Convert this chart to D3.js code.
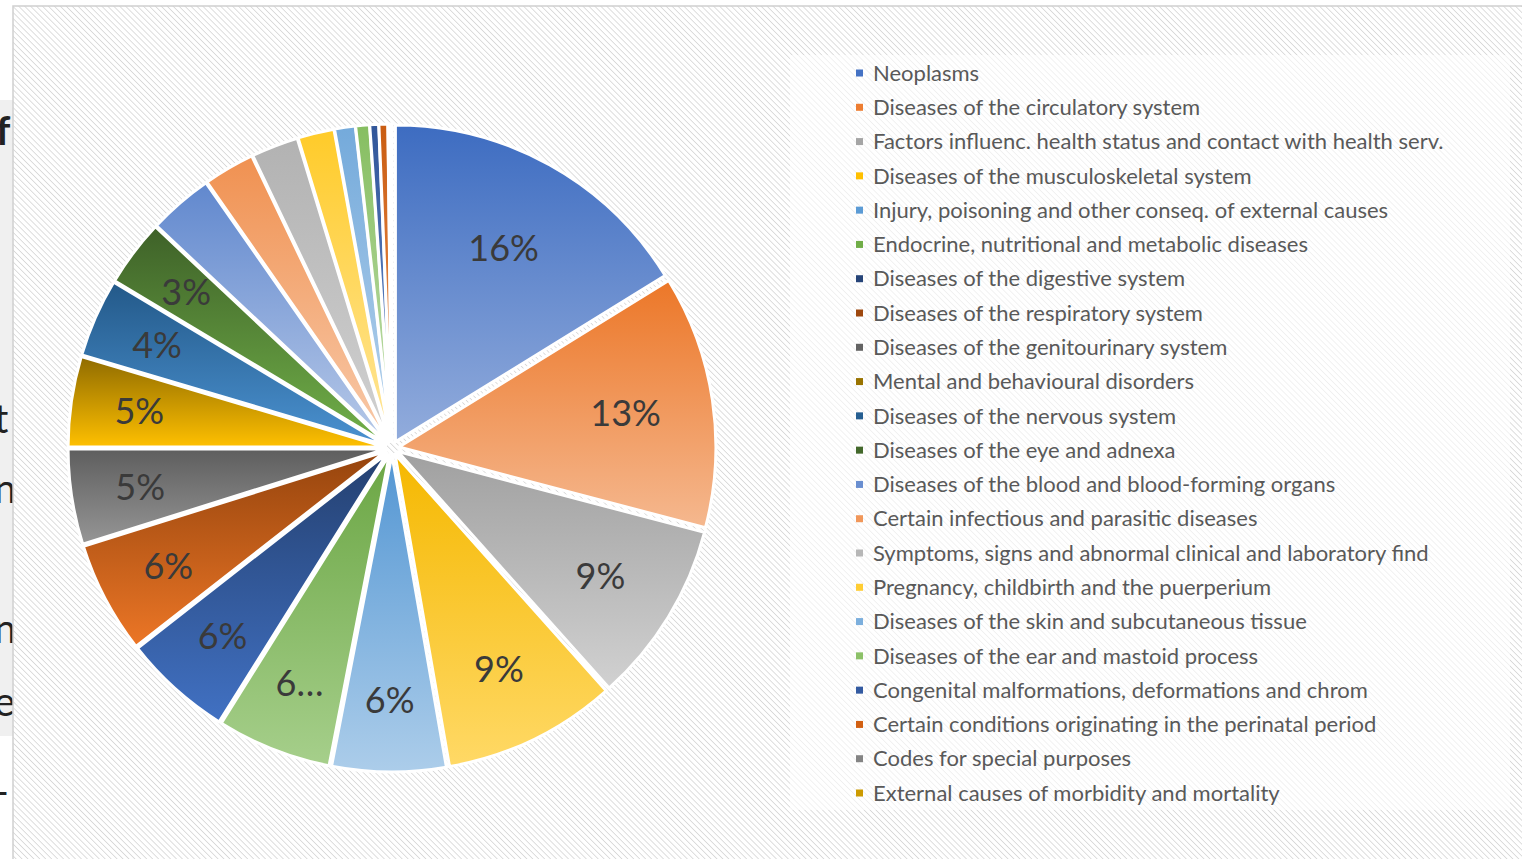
<!DOCTYPE html>
<html>
<head>
<meta charset="utf-8">
<script src="https://cdn.jsdelivr.net/npm/d3@7"></script>
<style>
  html, body { margin: 0; padding: 0; background: #ffffff; overflow: hidden; }
  svg { display: block; }
</style>
</head>
<body>
<svg id="chart" width="1522" height="859"></svg>
<script>
// ---- data ----
const categories = [
  "Neoplasms",
  "Diseases of the circulatory system",
  "Factors influenc. health status and contact with health serv.",
  "Diseases of the musculoskeletal system",
  "Injury, poisoning and other conseq. of external causes",
  "Endocrine, nutritional and metabolic diseases",
  "Diseases of the digestive system",
  "Diseases of the respiratory system",
  "Diseases of the genitourinary system",
  "Mental and behavioural disorders",
  "Diseases of the nervous system",
  "Diseases of the eye and adnexa",
  "Diseases of the blood and blood-forming organs",
  "Certain infectious and parasitic diseases",
  "Symptoms, signs and abnormal clinical and laboratory find",
  "Pregnancy, childbirth and the puerperium",
  "Diseases of the skin and subcutaneous tissue",
  "Diseases of the ear and mastoid process",
  "Congenital malformations, deformations and chrom",
  "Certain conditions originating in the perinatal period",
  "Codes for special purposes",
  "External causes of morbidity and mortality"
];
const shares = [16.2, 12.9, 9.3, 8.85, 5.8, 5.85, 5.55, 5.7, 4.85, 4.6, 4.0, 3.4, 3.3, 2.6, 2.4, 1.85, 1.05, 0.7, 0.45, 0.45, 0.1, 0.1];
const sliceLabels = ["16%", "13%", "9%", "9%", "6%", "6…", "6%", "6%", "5%", "5%", "4%", "3%", "", "", "", "", "", "", "", "", "", ""];
const colors = ["#4472C4", "#ED7D31", "#A5A5A5", "#FFC000", "#5B9BD5", "#70AD47", "#264478", "#9E480E", "#636363", "#997300", "#255E91", "#43682B", "#698ED0", "#F1975A", "#B7B7B7", "#FFCD33", "#7CAFDD", "#8CC168", "#335AA1", "#D26012", "#848484", "#CC9A00"];
const sideText = [
  {t: "f", y: 145, w: "bold"},
  {t: "t", y: 433, w: "normal"},
  {t: "n", y: 503, w: "normal"},
  {t: "n", y: 643, w: "normal"},
  {t: "e", y: 716, w: "normal"},
  {t: "-", y: 806, w: "normal"}
];

const svg = d3.select("#chart");
const defs = svg.append("defs");

// hatch pattern
const pat = defs.append("pattern")
  .attr("id", "hatch").attr("patternUnits", "userSpaceOnUse")
  .attr("width", 4.2).attr("height", 4.2)
  .attr("patternTransform", "rotate(-45)");
pat.append("rect").attr("width", 4.2).attr("height", 4.2).attr("fill", "#ffffff");
pat.append("line").attr("x1", 0).attr("y1", 0).attr("x2", 0).attr("y2", 4.2)
  .attr("stroke", "#d6d6d6").attr("stroke-width", 1.6);

// left document fragment
svg.append("rect").attr("x", 0).attr("y", 100).attr("width", 14).attr("height", 636).attr("fill", "#f0f0f0");
svg.selectAll("text.side").data(sideText).join("text")
  .attr("class", "side")
  .attr("x", d => d.t === "f" ? -4 : -6)
  .attr("y", d => d.y)
  .attr("font-family", "Lato, 'Open Sans', sans-serif")
  .attr("font-size", 40)
  .attr("font-weight", d => d.w)
  .attr("fill", "#222")
  .text(d => d.t);

// chart area
svg.append("rect").attr("x", 13).attr("y", 6).attr("width", 1512).attr("height", 856)
  .attr("fill", "url(#hatch)").attr("stroke", "#d0d0d0").attr("stroke-width", 1.5);

// legend box
svg.append("rect").attr("x", 790).attr("y", 55).attr("width", 720).attr("height", 755)
  .attr("fill", "#ffffff").attr("fill-opacity", 0.6);

// gradients: darker base at top, lighter shade of same hue at bottom
colors.forEach((c, i) => {
  const g = defs.append("linearGradient").attr("id", "g" + i)
    .attr("x1", 0).attr("y1", 0).attr("x2", 0).attr("y2", 1);
  const top = d3.hsl(c); top.l = Math.max(0, top.l - 0.02);
  const bot = d3.hsl(c); bot.l = Math.min(0.82, bot.l + 0.2);
  g.append("stop").attr("offset", "0%").attr("stop-color", top.formatHex());
  g.append("stop").attr("offset", "100%").attr("stop-color", bot.formatHex());
});

// pie
const cx = 392, cy = 448, R = 317, explode = 7;
const pie = d3.pie().sort(null).value(d => d).startAngle(0).endAngle(2 * Math.PI);
const arcs = pie(shares);
const arc = d3.arc().innerRadius(0).outerRadius(R);
// larger slices carry their label closer to the centre (best-fit style)
const labelR = d3.scaleLinear().domain([3, 16]).range([252, 222]).clamp(true);

const pg = svg.append("g").attr("transform", `translate(${cx},${cy})`);
const slices = pg.selectAll("g.slice").data(arcs).join("g")
  .attr("class", "slice")
  .attr("transform", d => {
    const a = (d.startAngle + d.endAngle) / 2;
    return `translate(${explode * Math.sin(a)},${-explode * Math.cos(a)})`;
  });
slices.append("path")
  .attr("d", arc)
  .attr("fill", (d, i) => `url(#g${i})`)
  .attr("stroke", "#ffffff").attr("stroke-width", 3).attr("stroke-linejoin", "round");

slices.append("text")
  .attr("transform", d => {
    const r = labelR(d.value);
    return `translate(${d3.arc().innerRadius(r).outerRadius(r).centroid(d)})`;
  })
  .attr("text-anchor", "middle").attr("dy", "0.36em")
  .attr("font-family", "Lato, 'Open Sans', sans-serif")
  .attr("font-size", 36)
  .attr("fill", "#3a3a3a")
  .text((d, i) => sliceLabels[i]);

// legend
const ly = d3.scaleLinear().domain([0, categories.length - 1]).range([73, 793]);
const lg = svg.append("g");
const items = lg.selectAll("g").data(categories).join("g")
  .attr("transform", (d, i) => `translate(856,${ly(i)})`);
items.append("rect").attr("x", 0).attr("y", -3.5).attr("width", 7).attr("height", 7)
  .attr("fill", (d, i) => colors[i]);
items.append("text")
  .attr("x", 17).attr("dy", "0.35em")
  .attr("font-family", "Lato, 'Open Sans', sans-serif")
  .attr("font-size", 22)
  .attr("fill", "#595959")
  .text(d => d);
</script>
</body>
</html>
